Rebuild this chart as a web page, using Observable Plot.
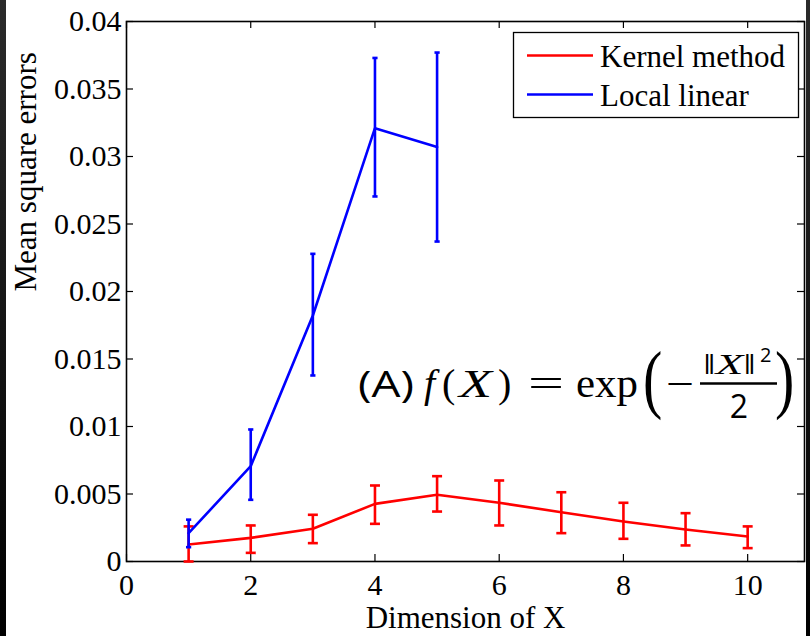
<!DOCTYPE html>
<html>
<head>
<meta charset="utf-8">
<script src="https://cdn.jsdelivr.net/npm/d3@7"></script>
<script src="https://cdn.jsdelivr.net/npm/@observablehq/plot@0.6"></script>
<style>
  html, body { margin: 0; padding: 0; background: #fff; }
  #wrap { position: relative; width: 810px; height: 636px; overflow: hidden; }
  .strip { position: absolute; top: 0; height: 636px; background: linear-gradient(#2b2b2b, #000); }
</style>
</head>
<body>
<div id="wrap"></div>
<script>
// ---- data ----
const dims = [1, 2, 3, 4, 5, 6, 7, 8, 9, 10];
const kernelMean = [0.00126, 0.00175, 0.00242, 0.00427, 0.00494, 0.00435, 0.00365, 0.00296, 0.00237, 0.00185];
const kernelLow  = [0.0, 0.00064, 0.00136, 0.00279, 0.0037, 0.00267, 0.0021, 0.00168, 0.00119, 0.00099];
const kernelHigh = [0.0026, 0.00267, 0.00346, 0.00563, 0.00632, 0.006, 0.00513, 0.00435, 0.00358, 0.0026];

const linearDims = [1, 2, 3, 4, 5];
const linearMean = [0.0021, 0.00706, 0.01822, 0.0321, 0.0307];
const linearLow  = [0.00106, 0.00457, 0.01378, 0.02704, 0.0237];
const linearHigh = [0.0031, 0.00978, 0.02279, 0.0373, 0.0377];

const xTicks = [0, 2, 4, 6, 8, 10];
const yTicks = [0, 0.005, 0.01, 0.015, 0.02, 0.025, 0.03, 0.035, 0.04];
const yTickLabels = ["0", "0.005", "0.01", "0.015", "0.02", "0.025", "0.03", "0.035", "0.04"];
const seriesNames = ["Kernel method", "Local linear"];
const seriesColors = ["#ff0000", "#0000ff"];
const xLabel = "Dimension of X";
const yLabel = "Mean square errors";

// ---- tables ----
const kernel = dims.map((d, i) => ({x: d, y: kernelMean[i], lo: kernelLow[i], hi: kernelHigh[i]}));
const linear = linearDims.map((d, i) => ({x: d, y: linearMean[i], lo: linearLow[i], hi: linearHigh[i]}));

const W = 810, H = 636;
const mL = 126, mR = 6, mT = 21, mB = 75;
const plotW = W - mL - mR, plotH = H - mT - mB;

// horizontal cap symbol for error bars
const capSymbol = {
  draw(ctx, size) {
    const r = Math.sqrt(size / Math.PI);
    ctx.moveTo(-r, 0);
    ctx.lineTo(r, 0);
  }
};

function seriesMarks(data, color, capR) {
  return [
    Plot.ruleX(data, {x: "x", y1: "lo", y2: "hi", stroke: color, strokeWidth: 2.6}),
    Plot.dot(data, {x: "x", y: "lo", symbol: capSymbol, r: capR, stroke: color, strokeWidth: 2.6, fill: "none"}),
    Plot.dot(data, {x: "x", y: "hi", symbol: capSymbol, r: capR, stroke: color, strokeWidth: 2.6, fill: "none"}),
    Plot.line(data, {x: "x", y: "y", stroke: color, strokeWidth: 2.6})
  ];
}

const chart = Plot.plot({
  width: W,
  height: H,
  marginLeft: mL,
  marginRight: mR,
  marginTop: mT,
  marginBottom: mB,
  style: {fontFamily: "'Liberation Serif', 'Times New Roman', serif", fontSize: "30px", color: "#000", background: "transparent"},
  x: {domain: [0, 10.915]},
  y: {domain: [0, 0.04]},
  marks: [
    Plot.frame({stroke: "#000", strokeWidth: 1.6}),
    // inward ticks: bottom, top, left, right
    Plot.tickX(xTicks, {x: d => d, insetTop: plotH - 7, stroke: "#000", strokeWidth: 1.2}),
    Plot.tickX(xTicks, {x: d => d, insetBottom: plotH - 7, stroke: "#000", strokeWidth: 1.2}),
    Plot.tickY(yTicks, {y: d => d, insetRight: plotW - 7, stroke: "#000", strokeWidth: 1.2}),
    Plot.tickY(yTicks, {y: d => d, insetLeft: plotW - 7, stroke: "#000", strokeWidth: 1.2}),
    Plot.axisX(xTicks, {tickSize: 0, tickPadding: 12, label: null}),
    Plot.axisY(yTicks, {tickSize: 0, tickPadding: 5, label: null, tickFormat: d => yTickLabels[yTicks.indexOf(d)]}),
    Plot.text([xLabel], {text: d => d, frameAnchor: "bottom", dy: 57, lineAnchor: "middle", fontSize: 31}),
    Plot.text([yLabel], {text: d => d, frameAnchor: "left", rotate: -90, dx: -100, lineAnchor: "middle", fontSize: 31}),
    ...seriesMarks(kernel, seriesColors[0], 5),
    ...seriesMarks(linear, seriesColors[1], 2.6)
  ]
});

const wrap = document.getElementById("wrap");
wrap.appendChild(chart);

// ---- legend & annotation drawn into the SVG ----
const svg = d3.select(chart);
const serif = "'Liberation Serif', 'DejaVu Serif', serif";
const sans = "'Open Sans', 'Noto Sans', sans-serif";

const lg = svg.append("g").attr("text-anchor", "start");
lg.append("rect").attr("x", 513.5).attr("y", 32.5).attr("width", 285).attr("height", 85)
  .attr("fill", "#fff").attr("stroke", "#000").attr("stroke-width", 1.3);
seriesNames.forEach((name, i) => {
  const cy = [55.5, 94.5][i];
  lg.append("line").attr("x1", 527).attr("x2", 593).attr("y1", cy).attr("y2", cy)
    .attr("stroke", seriesColors[i]).attr("stroke-width", 2.6);
  lg.append("text").attr("x", 600).attr("y", [66.5, 106][i]).attr("text-anchor", "start")
    .attr("font-family", serif).attr("font-size", 31).attr("fill", "#000").text(name);
});

const fm = svg.append("g").attr("fill", "#000").attr("text-anchor", "start");
function t(str, x, y, opts = {}) {
  const el = fm.append("text")
    .attr("transform", `translate(${x},${y})` + (opts.sy ? ` scale(1,${opts.sy})` : ""))
    .attr("font-family", opts.family || serif)
    .attr("font-size", opts.size || 40)
    .attr("font-style", opts.italic ? "italic" : "normal")
    .attr("text-anchor", opts.anchor || "start")
    .text(str);
  if (opts.len) el.attr("textLength", opts.len).attr("lengthAdjust", "spacingAndGlyphs");
  return el;
}
t("(A)", 358, 397, {family: sans, size: 37, len: 56});
t("f", 424, 397, {italic: true, size: 40});
t("(", 442, 397, {size: 40});
t("X", 459, 397, {italic: true, size: 40, len: 33});
t(")", 498, 397, {size: 40});
t("=", 528, 397, {size: 40, len: 36});
t("exp", 576, 397, {size: 40, len: 62});
t("(", 643, 404, {size: 58, sy: 1.32});
t("\u2212", 666, 397, {size: 40, len: 28});
fm.append("line").attr("x1", 700).attr("x2", 777).attr("y1", 383.5).attr("y2", 383.5)
  .attr("stroke", "#000").attr("stroke-width", 2.4);
const num = fm.append("text").attr("x", 703).attr("y", 374).attr("text-anchor", "start")
  .attr("font-family", serif).attr("font-size", 30)
  .attr("textLength", 53).attr("lengthAdjust", "spacingAndGlyphs");
num.append("tspan").text("\u2016");
num.append("tspan").attr("font-style", "italic").text("X");
num.append("tspan").text("\u2016");
t("2", 760, 362, {family: sans, size: 20});
t("2", 739, 418, {family: sans, size: 32, anchor: "middle"});
t(")", 775, 404, {size: 58, sy: 1.32});

// dark edge strips of the screenshot
const left = document.createElement("div");
left.className = "strip"; left.style.left = "0px"; left.style.width = "6px";
const right = document.createElement("div");
right.className = "strip"; right.style.left = "806px"; right.style.width = "4px";
wrap.appendChild(left); wrap.appendChild(right);
</script>
</body>
</html>
